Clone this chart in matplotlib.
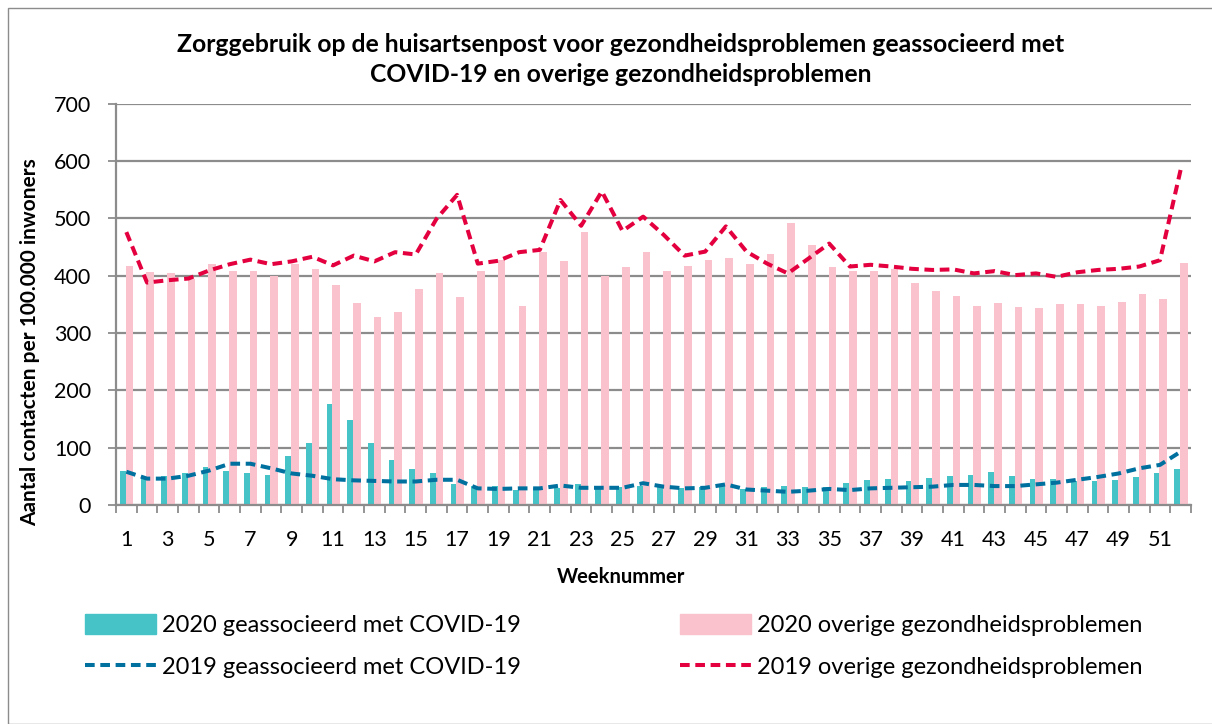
import matplotlib
matplotlib.use("Agg")
import matplotlib.pyplot as plt
from matplotlib.lines import Line2D
from matplotlib.patches import Patch, Rectangle
import numpy as np

plt.rcParams['font.family'] = ['Lato', 'DejaVu Sans']

# weeks 1..52
weeks = list(range(1, 53))

# 2020 geassocieerd met COVID-19 (bars)
covid_2020 = [59, 48, 51, 55, 67, 60, 55, 52, 86, 108,
              177, 148, 108, 78, 62, 55, 37, 34, 33, 26,
              29, 29, 37, 31, 31, 34, 31, 29, 31, 33,
              28, 31, 34, 32, 32, 38, 44, 45, 42, 47,
              50, 52, 58, 51, 45, 45, 42, 42, 44, 49,
              55, 63]

# 2020 overige gezondheidsproblemen (bars)
overig_2020 = [417, 406, 404, 395, 420, 409, 408, 399, 421, 412,
               384, 353, 328, 337, 377, 404, 362, 408, 427, 347,
               441, 425, 476, 400, 416, 441, 408, 417, 427, 430,
               421, 438, 492, 453, 415, 408, 408, 411, 387, 374,
               365, 347, 352, 345, 344, 351, 351, 347, 354, 368,
               360, 422]

# 2019 geassocieerd met COVID-19 (dashed line)
covid_2019 = [58, 46, 46, 51, 60, 72, 72, 64, 55, 51,
              45, 43, 42, 41, 41, 44, 44, 29, 28, 29,
              29, 34, 30, 30, 30, 38, 32, 29, 30, 36,
              27, 25, 23, 25, 28, 26, 29, 30, 31, 32,
              35, 35, 33, 33, 36, 39, 44, 49, 55, 64,
              70, 93]

# 2019 overige gezondheidsproblemen (dashed line)
overig_2019 = [476, 388, 392, 395, 409, 420, 428, 420, 425, 433,
               418, 435, 425, 441, 437, 499, 541, 421, 426, 441,
               445, 532, 487, 547, 478, 503, 471, 435, 442, 486,
               442, 421, 404, 430, 456, 416, 419, 416, 412, 410,
               411, 404, 408, 401, 404, 398, 406, 410, 412, 416,
               427, 585]

C_TEAL = "#46C3C7"
C_PINK = "#F9C2CD"
C_BLUE = "#00709F"
C_RED = "#E4003F"
C_GRID = "#8C8C8C"

fig = plt.figure(figsize=(12.12, 7.24), dpi=100)
ax = fig.add_axes([116/1212, 1-505/724, (1191-116)/1212, (505-103.7)/724])

x = np.arange(len(weeks))
ax.bar(x - 0.17, covid_2020, width=0.28, color=C_TEAL, zorder=2)
ax.bar(x + 0.155, overig_2020, width=0.37, color=C_PINK, zorder=2)
ax.plot(x, covid_2019, color=C_BLUE, lw=2.9, dashes=(2.4, 1.4), zorder=3)
ax.plot(x, overig_2019, color=C_RED, lw=2.9, dashes=(2.4, 1.4), zorder=3)

ax.set_xlim(-0.5, len(weeks) - 0.5)
ax.set_ylim(0, 700)
ax.set_yticks(range(0, 701, 100))
ax.yaxis.grid(True, color=C_GRID, lw=1.6, zorder=0)
ax.set_axisbelow(True)

# category boundaries as tick marks, odd week numbers as labels
ax.set_xticks(np.arange(-0.5, len(weeks), 1.0))
ax.set_xticklabels([])
ax.set_xticks(x[::2], minor=True)
ax.set_xticklabels([str(w) for w in weeks[::2]], minor=True)
ax.tick_params(axis='x', which='major', length=6, width=1.3, color=C_GRID)
ax.tick_params(axis='x', which='minor', length=0, pad=18, labelsize=15.5)
ax.tick_params(axis='y', length=6, width=1.3, color=C_GRID, pad=12, labelsize=15.5)

for s in ['top', 'right']:
    ax.spines[s].set_visible(False)
for s in ['left', 'bottom']:
    ax.spines[s].set_color(C_GRID)
    ax.spines[s].set_linewidth(1.6)

fig.text(621/1212, 1-45/724,
         "Zorggebruik op de huisartsenpost voor gezondheidsproblemen geassocieerd met",
         ha='center', va='center', fontsize=17.8, fontweight='bold')
fig.text(621/1212, 1-75/724, "COVID-19 en overige gezondheidsproblemen",
         ha='center', va='center', fontsize=17.8, fontweight='bold')

fig.text(621/1212, 1-577/724, "Weeknummer", ha='center', va='center',
         fontsize=14.5, fontweight='bold')
fig.text(30/1212, 1-342/724, "Aantal contacten per 100.000 inwoners", ha='center',
         va='center', rotation=90, fontsize=15, fontweight='bold')

handles1 = [Patch(color=C_TEAL), Patch(color=C_PINK)]
labels1 = ["2020 geassocieerd met COVID-19", "2020 overige gezondheidsproblemen"]
handles2 = [Line2D([], [], color=C_BLUE, lw=2.9, dashes=(2.4, 1.4)),
            Line2D([], [], color=C_RED, lw=2.9, dashes=(2.4, 1.4))]
labels2 = ["2019 geassocieerd met COVID-19", "2019 overige gezondheidsproblemen"]

for i, (h, l) in enumerate(zip(handles1 + handles2, labels1 + labels2)):
    col = i % 2
    row = i // 2
    xs = [85, 680][col]
    ys = [625, 667][row]
    fig.legend([h], [l], loc='center left',
               bbox_to_anchor=((xs - 9) / 1212, 1 - ys / 724),
               frameon=False, fontsize=17, handlelength=3.0,
               handleheight=0.9, handletextpad=0.25, borderaxespad=0)

# chart area border
fig.patches.append(Rectangle((8/1212, 0), 1.2, 1 - 8/724, transform=fig.transFigure,
                             fill=False, edgecolor="#8C8C8C", lw=1.0, figure=fig))

fig.savefig("out.png", dpi=100)
